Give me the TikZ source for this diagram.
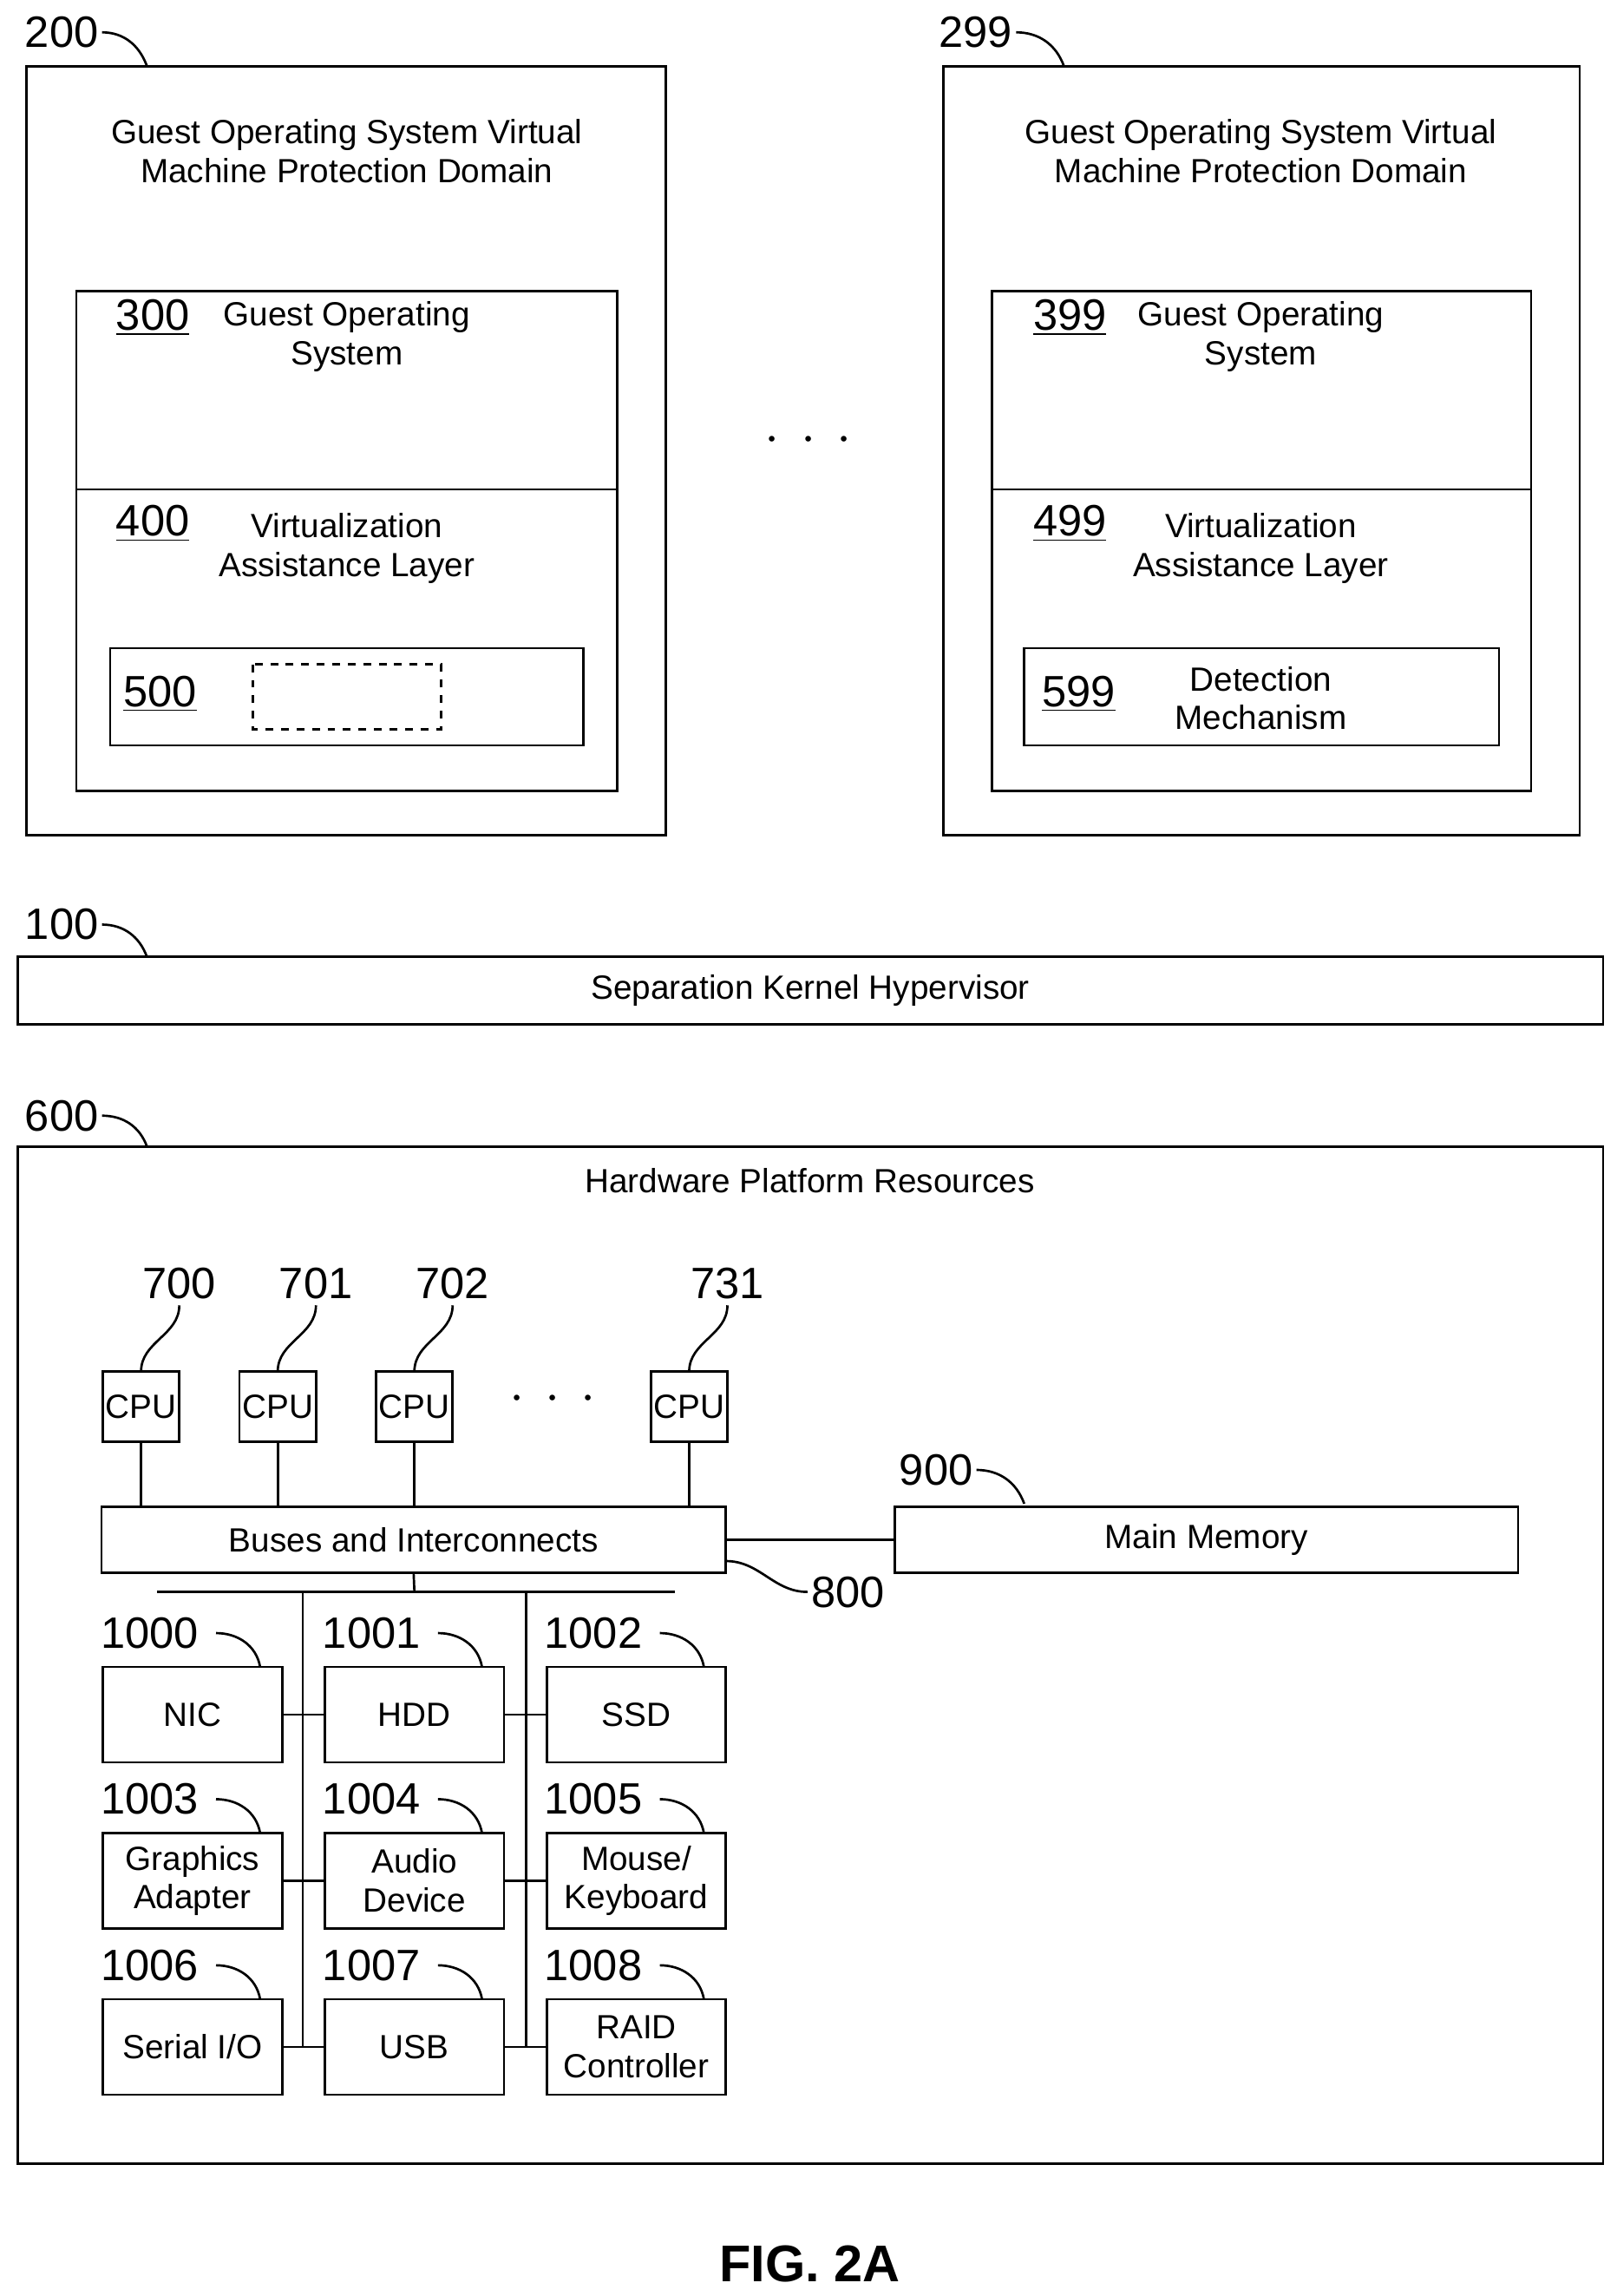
\documentclass[tikz,border=0pt]{standalone}
\usepackage{fontspec}
\setmainfont{Liberation Sans}
\usetikzlibrary{positioning}
\begin{document}
\begin{tikzpicture}[x=0.02cm,y=-0.02cm,line width=0.9pt]
	\tikzset{box/.style={draw, rectangle, inner sep=0pt, font=\fontsize{13}{15}\selectfont, align=center},
		num/.style={font=\fontsize{17}{17}\selectfont, inner sep=1pt},
		txt/.style={font=\fontsize{13}{15}\selectfont, align=center},
		lead/.style={draw, line width=0.9pt}}
	\useasboundingbox (0,0) rectangle (1100,1562);
	% protection domains
	\draw (18,45) rectangle (453,568);
	\draw (642,45) rectangle (1075,568);
	\node[num] (n200) at (42,22) {200};
	\node[num] (n299) at (664,22) {299};
	\draw (n200.east) to[out=0,in=110] (100,45);
	\draw (n299.east) to[out=0,in=110] (724,45);
	\node[txt] (d1) at (236,103) {Guest Operating System Virtual\\Machine Protection Domain};
	\node[txt] (d2) at (858,103) {Guest Operating System Virtual\\Machine Protection Domain};
	% guest os / assistance layer
	\draw (52,198) rectangle (420,538);
	\draw (52,333) -- (420,333);
	\draw (675,198) rectangle (1042,538);
	\draw (675,333) -- (1042,333);
	\node[num] (n300) at (104,216) {\underline{300}};
	\node[txt] (g1) at (236,229) {Guest Operating\\System};
	\node[num] (n399) at (728,216) {\underline{399}};
	\node[txt] (g2) at (858,229) {Guest Operating\\System};
	\node[num] (n400) at (104,356) {\underline{400}};
	\node[txt] (v1) at (236,373) {Virtualization\\Assistance Layer};
	\node[num] (n499) at (728,356) {\underline{499}};
	\node[txt] (v2) at (858,373) {Virtualization\\Assistance Layer};
	\draw (75,441) rectangle (397,507);
	\draw[dashed] (172,452) rectangle (300,496);
	\node[num] (n500) at (109,472) {\underline{500}};
	\draw (697,441) rectangle (1020,507);
	\node[num] (n599) at (734,472) {\underline{599}};
	\node[txt] (det) at (858,475) {Detection\\Mechanism};
	\node[font=\fontsize{20}{20}\selectfont] (dots1) at (550,300) {$\cdot\,\cdot\,\cdot$};
	% hypervisor
	\node[box, minimum width=1079*0.02cm, minimum height=46*0.02cm] (skh) at (551.5,674) {Separation Kernel Hypervisor};
	\node[num] (n100) at (42,629) {100};
	\draw (n100.east) to[out=0,in=110] (100,651);
	% hardware
	\draw (12,780) rectangle (1091,1472);
	\node[num] (n600) at (42,759) {600};
	\draw (n600.east) to[out=0,in=110] (100,780);
	\node[txt] (hpr) at (551,803) {Hardware Platform Resources};
	% cpus
	\foreach \x/\n in {96/700,189/701,282/702,469/731}{
		\node[box, minimum width=52*0.02cm, minimum height=48*0.02cm] (cpu\n) at (\x,957) {CPU};
		\node[num] (n\n) at (\x+26,873) {\n};
		\draw (\x+26,888) to[out=-90,in=90] (\x,933);
		\draw (cpu\n.south) -- (\x,1025);
	}
	\node[font=\fontsize{20}{20}\selectfont] (dots2) at (376,952) {$\cdot\,\cdot\,\cdot$};
	\node[box, minimum width=425*0.02cm, minimum height=45*0.02cm] (bus) at (281.5,1047.5) {Buses and Interconnects};
	\node[box, minimum width=424*0.02cm, minimum height=45*0.02cm] (mem) at (821,1047.5) {Main Memory};
	\draw (bus.east) -- (mem.west);
	\node[num] (n900) at (637,1000) {900};
	\draw (n900.east) to[out=0,in=110] (697,1023);
	\node[num] (n800) at (577,1083) {800};
	\draw (494,1062) to[out=0,in=180] (n800.west);
	% device buses
	\draw (bus.south) -- (282,1083);
	\draw (107,1083) -- (459,1083);
	\draw (206,1083) -- (206,1392);
	\draw (358,1083) -- (358,1392);
	\foreach \x/\c in {131/0,282/1,433/2}{
		\foreach \y/\r in {1166.5/0,1279.5/1,1392.5/2}{
			\node[box, minimum width=122*0.02cm, minimum height=65*0.02cm] (dev\r\c) at (\x,\y) {};
		}
	}
	\node[txt] at (dev00) {NIC};
	\node[txt] at (dev01) {HDD};
	\node[txt] at (dev02) {SSD};
	\node[txt] at (dev10) {Graphics\\Adapter};
	\node[txt] at (dev11) {Audio\\Device};
	\node[txt] at (dev12) {Mouse/\\Keyboard};
	\node[txt] at (dev20) {Serial I/O};
	\node[txt] at (dev21) {USB};
	\node[txt] at (dev22) {RAID\\Controller};
	\foreach \r/\y in {0/1111,1/1224,2/1337}{
		\foreach \c/\x in {0/70,1/221,2/372}{
			\pgfmathtruncatemacro{\lbl}{1000+3*\r+\c}
			\node[num, anchor=west] (n\lbl) at (\x-4,\y) {\lbl};
			\draw (\x+77,\y) to[out=0,in=100] (\x+107,\y+23);
		}
		\draw (dev\r0.east) -- (dev\r1.west);
		\draw (dev\r1.east) -- (dev\r2.west);
	}
	\node[font=\bfseries\fontsize{20}{20}\selectfont] (fig) at (551,1540) {FIG. 2A};
\end{tikzpicture}
\end{document}
